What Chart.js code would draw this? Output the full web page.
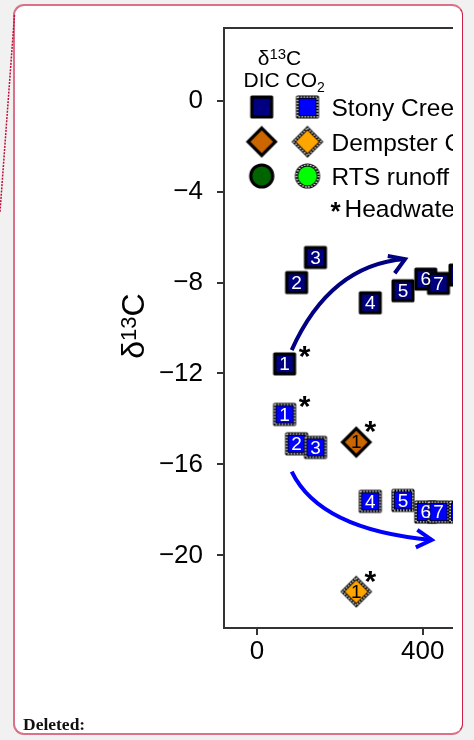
<!DOCTYPE html>
<html>
<head>
<meta charset="utf-8">
<script src="https://cdn.jsdelivr.net/npm/chart.js@4.4.1/dist/chart.umd.min.js"></script>
<style>
  html, body { margin: 0; padding: 0; width: 474px; height: 740px; overflow: hidden; background: #f1f1f1; }
  #card {
    position: absolute; left: 13px; top: 4px; width: 450px; height: 731px;
    box-sizing: border-box; background: #fff;
    border: 2px solid #dc7088; border-right: 1px solid #cc1f47; border-radius: 11px;
  }
  #leader { position: absolute; left: 0; top: 0; }
  #plotClip { position: absolute; left: 0; top: 0; width: 453px; height: 740px; overflow: hidden; }
  #plotClip canvas { position: absolute; left: 0; top: 0; }
  #note {
    position: absolute; left: 23px; top: 714px; line-height: 20px;
    font: bold 17.5px "Liberation Serif", "Times New Roman", serif; color: #111;
  }
</style>
</head>
<body>
<div id="card"></div>
<svg id="leader" width="30" height="230">
  <line x1="14.5" y1="15" x2="0" y2="212" stroke="#c0103a" stroke-width="1.5" stroke-dasharray="2 1.2"/>
</svg>
<div id="plotClip"><canvas id="chart" width="560" height="740"></canvas></div>
<div id="note">Deleted:</div>

<script>
// Distance along the stream (m) and δ13C (‰) of DIC and CO2 at each site
const stonyDist     = [66.6, 95.6, 141.2, 273.5, 352.4, 407.5, 438.1, 490];
const stonyDIC      = [-11.58, -8.00, -6.90, -8.89, -8.36, -7.85, -8.04, -7.67];
const stonyCO2      = [-13.80, -15.09, -15.25, -17.62, -17.58, -18.09, -18.09, -18.09];
const stonySites    = ['1', '2', '3', '4', '5', '6', '7', '8'];
const stonyHead     = [true, false, false, false, false, false, false, false];

const dempsterDist  = [239.7];
const dempsterDIC   = [-15.02];
const dempsterCO2   = [-21.59];
const dempsterSites = ['1'];
const dempsterHead  = [true];

const rtsDist = [];
const rtsDIC  = [];
const rtsCO2  = [];

const xTickValues = [0, 400, 800];
const xTickLabels = ['0', '400', '800'];
const yTickValues = [0, -4, -8, -12, -16, -20];
const yTickLabels = ['0', '−4', '−8', '−12', '−16', '−20'];

const legendNames = ['Stony Creek', 'Dempster Creek', 'RTS runoff'];
const footnote = 'Headwaters';

// Downstream trend arrows: start, bend and end in data units
const trendArrows = [
  { from: [83.8, -10.97], bend: [176.2, -7.23], to: [357.3, -6.97], color: '#000080', headDir: -22, headHalf: 32 },
  { from: [83.8, -16.32], bend: [152.1, -18.88], to: [421.7, -19.32], color: '#0000ff', headDir: 5, headHalf: 30 }
];

const FONT = '"Liberation Sans", Arial, Helvetica, sans-serif';

function makeMarker(shape, fill, dotted) {
  const size = shape === 'diamond' ? 36 : 28;
  const c = document.createElement('canvas');
  c.width = size; c.height = size;
  const g = c.getContext('2d');
  const m = size / 2;
  g.beginPath();
  if (shape === 'square') {
    const h = 9.9;
    g.rect(m - h, m - h, 2 * h, 2 * h);
  } else if (shape === 'diamond') {
    const h = 13.7;
    g.moveTo(m, m - h); g.lineTo(m + h, m); g.lineTo(m, m + h); g.lineTo(m - h, m); g.closePath();
  } else {
    g.arc(m, m, 11, 0, Math.PI * 2);
  }
  g.fillStyle = fill;
  g.fill();
  g.lineWidth = 3.2;
  g.strokeStyle = '#000';
  g.lineJoin = shape === 'diamond' ? 'miter' : 'round';
  g.stroke();
  if (dotted) {
    g.setLineDash([1.5, 1.5]);
    g.lineWidth = 1.4;
    g.strokeStyle = '#fff';
    g.stroke();
  }
  return c;
}

const markers = {
  stonyDIC: makeMarker('square', '#000080', false),
  stonyCO2: makeMarker('square', '#0000ff', true),
  dempDIC:  makeMarker('diamond', '#cc6600', false),
  dempCO2:  makeMarker('diamond', '#ffa500', true),
  rtsDIC:   makeMarker('circle', '#006400', false),
  rtsCO2:   makeMarker('circle', '#00ff00', true)
};

function pairs(xs, ys) { return xs.map((x, i) => ({ x: x, y: ys[i] })); }

const datasets = [
  { label: 'Stony Creek DIC', data: pairs(stonyDist, stonyDIC), pointStyle: markers.stonyDIC,
    sites: stonySites, head: stonyHead, textColor: '#fff', starOff: [20, -12.5] },
  { label: 'Stony Creek CO2', data: pairs(stonyDist, stonyCO2), pointStyle: markers.stonyCO2,
    sites: stonySites, head: stonyHead, textColor: '#fff', starOff: [20, -12.5] },
  { label: 'Dempster Creek DIC', data: pairs(dempsterDist, dempsterDIC), pointStyle: markers.dempDIC,
    sites: dempsterSites, head: dempsterHead, textColor: '#000', starOff: [14, -15] },
  { label: 'Dempster Creek CO2', data: pairs(dempsterDist, dempsterCO2), pointStyle: markers.dempCO2,
    sites: dempsterSites, head: dempsterHead, textColor: '#000', starOff: [14, -15] },
  { label: 'RTS runoff DIC', data: pairs(rtsDist, rtsDIC), pointStyle: markers.rtsDIC, sites: [], head: [] },
  { label: 'RTS runoff CO2', data: pairs(rtsDist, rtsCO2), pointStyle: markers.rtsCO2, sites: [], head: [] }
].map(d => Object.assign({ pointRadius: 12, pointHoverRadius: 12, showLine: false }, d));

// Full frame around the plotting region
const frame = {
  id: 'frame',
  beforeDatasetsDraw(chart) {
    const { ctx, chartArea: a } = chart;
    ctx.save();
    ctx.strokeStyle = '#333';
    ctx.lineWidth = 2;
    ctx.strokeRect(a.left, a.top, a.right - a.left, a.bottom - a.top);
    ctx.restore();
  }
};

// Curved trend arrows placed through the scales
const arrows = {
  id: 'arrows',
  beforeDatasetsDraw(chart) {
    const { ctx, scales: { x, y } } = chart;
    ctx.save();
    trendArrows.forEach(a => {
      const p0 = [x.getPixelForValue(a.from[0]), y.getPixelForValue(a.from[1])];
      const c = [x.getPixelForValue(a.bend[0]), y.getPixelForValue(a.bend[1])];
      const p1 = [x.getPixelForValue(a.to[0]), y.getPixelForValue(a.to[1])];
      ctx.strokeStyle = a.color;
      ctx.lineWidth = 4;
      ctx.lineCap = 'butt';
      ctx.beginPath();
      ctx.moveTo(p0[0], p0[1]);
      ctx.quadraticCurveTo(c[0], c[1], p1[0], p1[1]);
      ctx.stroke();
      const len = 17.5;
      const dir = a.headDir * Math.PI / 180;
      const half = a.headHalf * Math.PI / 180;
      const b1 = [p1[0] - len * Math.cos(dir + half), p1[1] - len * Math.sin(dir + half)];
      const b2 = [p1[0] - len * Math.cos(dir - half), p1[1] - len * Math.sin(dir - half)];
      ctx.lineJoin = 'miter';
      ctx.beginPath();
      ctx.moveTo(b1[0], b1[1]);
      ctx.lineTo(p1[0], p1[1]);
      ctx.lineTo(b2[0], b2[1]);
      ctx.stroke();
    });
    ctx.restore();
  }
};

// Site numbers inside markers and headwater asterisks
const siteLabels = {
  id: 'siteLabels',
  afterDatasetDraw(chart, args) {
    const ds = chart.data.datasets[args.index];
    const meta = args.meta;
    const { ctx } = chart;
    ctx.save();
    ctx.textAlign = 'center';
    ctx.textBaseline = 'middle';
    meta.data.forEach((pt, i) => {
      if (ds.sites[i]) {
        ctx.font = '19px ' + FONT;
        ctx.fillStyle = ds.textColor;
        ctx.fillText(ds.sites[i], pt.x, pt.y + 1);
      }
      if (ds.head[i]) {
        ctx.font = 'bold 30px ' + FONT;
        ctx.fillStyle = '#000';
        ctx.fillText('*', pt.x + ds.starOff[0], pt.y + ds.starOff[1] + 6);
      }
    });
    ctx.restore();
  }
};

function drawSup(ctx, parts, x, y, align) {
  // parts: [text, font, raise]
  let total = 0;
  const widths = parts.map(p => { ctx.font = p[1]; const w = ctx.measureText(p[0]).width; total += w; return w; });
  let cx = align === 'center' ? x - total / 2 : x;
  parts.forEach((p, i) => {
    ctx.font = p[1];
    ctx.fillText(p[0], cx, y - p[2]);
    cx += widths[i];
  });
}

// Axis title and in-plot key
const annotations = {
  id: 'annotations',
  afterDraw(chart) {
    const { ctx, chartArea: a } = chart;
    ctx.save();
    ctx.fillStyle = '#000';
    ctx.textAlign = 'left';
    ctx.textBaseline = 'alphabetic';

    // y-axis title
    ctx.save();
    ctx.translate(a.left - 80, (a.top + a.bottom) / 2 - 2);
    ctx.rotate(-Math.PI / 2);
    drawSup(ctx, [['δ', '32px ' + FONT, 0], ['13', '22px ' + FONT, 8], ['C', '32px ' + FONT, 0]], 0, 0, 'center');
    ctx.restore();

    // key
    const colDIC = a.left + 37.7, colCO2 = a.left + 83.5, textX = a.left + 107.5;
    drawSup(ctx, [['δ', '21px ' + FONT, 0], ['13', '15px ' + FONT, 6], ['C', '21px ' + FONT, 0]], a.left + 55.5, a.top + 37, 'center');
    ctx.font = '21px ' + FONT;
    ctx.textAlign = 'center';
    ctx.fillText('DIC', colDIC, a.top + 58.5);
    ctx.textAlign = 'left';
    drawSup(ctx, [['CO', '21px ' + FONT, 0], ['2', '14px ' + FONT, -5]], colCO2 - 22, a.top + 58.5, 'left');

    const rows = [
      [markers.stonyDIC, markers.stonyCO2],
      [markers.dempDIC, markers.dempCO2],
      [markers.rtsDIC, markers.rtsCO2]
    ];
    const rowY = [a.top + 79, a.top + 113.7, a.top + 148];
    rows.forEach((r, i) => {
      ctx.drawImage(r[0], colDIC - r[0].width / 2, rowY[i] - r[0].height / 2);
      ctx.drawImage(r[1], colCO2 - r[1].width / 2, rowY[i] - r[1].height / 2);
      ctx.font = '24.5px ' + FONT;
      ctx.fillText(legendNames[i], textX, rowY[i] + 9);
    });
    ctx.font = 'bold 26px ' + FONT;
    ctx.fillText('*', textX - 1, a.top + 192);
    ctx.font = '24.5px ' + FONT;
    ctx.fillText(footnote, textX + 13, a.top + 188.5);
    ctx.restore();
  }
};

new Chart(document.getElementById('chart'), {
  type: 'scatter',
  data: { datasets: datasets },
  options: {
    responsive: false,
    animation: false,
    events: [],
    layout: { padding: { top: 28, right: 20, left: 0, bottom: 0 } },
    plugins: { legend: { display: false }, tooltip: { enabled: false } },
    scales: {
      x: {
        type: 'linear',
        min: -79.66, max: 683.2,
        afterFit(s) { s.height = 112; s.paddingLeft = 0; s.paddingRight = 0; },
        afterBuildTicks(s) { s.ticks = xTickValues.filter(v => v >= s.min && v <= s.max).map(v => ({ value: v })); },
        ticks: {
          callback: (v) => xTickLabels[xTickValues.indexOf(v)],
          font: { family: FONT, size: 26 }, color: '#000', padding: 1, maxRotation: 0
        },
        grid: { display: true, drawOnChartArea: false, drawTicks: true, tickLength: 7, color: '#333', lineWidth: 2 },
        border: { display: false }
      },
      y: {
        type: 'linear',
        min: -23.19, max: 3.19,
        afterFit(s) { s.width = 224; s.paddingTop = 0; s.paddingBottom = 0; },
        afterBuildTicks(s) { s.ticks = yTickValues.map(v => ({ value: v })); },
        ticks: {
          callback: (v) => yTickLabels[yTickValues.indexOf(v)],
          font: { family: FONT, size: 26 }, color: '#000', padding: 14
        },
        grid: { display: true, drawOnChartArea: false, drawTicks: true, tickLength: 7, color: '#333', lineWidth: 2 },
        border: { display: false }
      }
    }
  },
  plugins: [frame, arrows, siteLabels, annotations]
});
</script>
</body>
</html>
